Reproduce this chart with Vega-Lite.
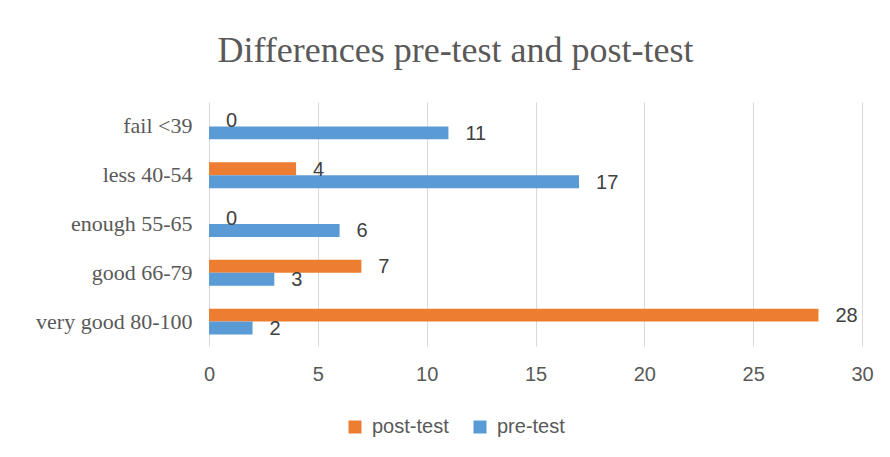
{
  "$schema": "https://vega.github.io/schema/vega-lite/v6.json",
  "width": 653,
  "height": 244,
  "autosize": {"type": "none"},
  "padding": {"left": 209, "top": 102, "right": 28, "bottom": 111},
  "background": "white",
  "title": {
    "text": "Differences pre-test and post-test",
    "font": "Liberation Serif",
    "fontSize": 36,
    "fontWeight": "normal",
    "color": "#595959",
    "anchor": "middle",
    "dx": -80,
    "offset": 32
  },
  "data": {
    "values": [
      {"grade": "fail <39", "test": "post-test", "count": 0},
      {"grade": "fail <39", "test": "pre-test", "count": 11},
      {"grade": "less 40-54", "test": "post-test", "count": 4},
      {"grade": "less 40-54", "test": "pre-test", "count": 17},
      {"grade": "enough 55-65", "test": "post-test", "count": 0},
      {"grade": "enough 55-65", "test": "pre-test", "count": 6},
      {"grade": "good 66-79", "test": "post-test", "count": 7},
      {"grade": "good 66-79", "test": "pre-test", "count": 3},
      {"grade": "very good 80-100", "test": "post-test", "count": 28},
      {"grade": "very good 80-100", "test": "pre-test", "count": 2}
    ]
  },
  "encoding": {
    "y": {
      "field": "grade",
      "type": "nominal",
      "sort": ["fail <39", "less 40-54", "enough 55-65", "good 66-79", "very good 80-100"],
      "scale": {"paddingInner": 0.47, "paddingOuter": 0.235},
      "axis": {
        "title": null,
        "domain": false,
        "ticks": false,
        "tickSize": 0,
        "grid": false,
        "labelPadding": 17,
        "labelFont": "Liberation Serif",
        "labelFontSize": 22,
        "labelColor": "#595959"
      }
    },
    "x": {
      "field": "count",
      "type": "quantitative",
      "scale": {"domain": [0, 30]},
      "axis": {
        "title": null,
        "values": [0, 5, 10, 15, 20, 25, 30],
        "domain": false,
        "ticks": false,
        "tickSize": 0,
        "grid": true,
        "gridColor": "#d9d9d9",
        "gridWidth": 1,
        "labelFlush": false,
        "labelPadding": 18,
        "labelFont": "Liberation Sans",
        "labelFontSize": 20,
        "labelColor": "#595959"
      }
    },
    "yOffset": {
      "field": "test",
      "type": "nominal",
      "sort": ["post-test", "pre-test"],
      "scale": {"paddingInner": 0, "paddingOuter": 0}
    }
  },
  "layer": [
    {
      "mark": {"type": "bar"},
      "encoding": {
        "color": {
          "field": "test",
          "type": "nominal",
          "sort": ["post-test", "pre-test"],
          "scale": {"domain": ["post-test", "pre-test"], "range": ["#ED7D31", "#5B9BD5"]},
          "legend": {
            "orient": "none",
            "direction": "horizontal",
            "legendX": 136,
            "legendY": 315,
            "title": null,
            "padding": 0,
            "symbolType": "square",
            "symbolSize": 169,
            "symbolStrokeWidth": 0,
            "labelFont": "Liberation Sans",
            "labelFontSize": 20,
            "labelColor": "#595959",
            "labelOffset": 7,
            "columnPadding": 21
          }
        }
      }
    },
    {
      "mark": {
        "type": "text",
        "align": "left",
        "baseline": "middle",
        "dx": 17,
        "dy": 1,
        "font": "Liberation Sans",
        "fontSize": 20,
        "color": "#404040"
      },
      "encoding": {
        "text": {"field": "count", "type": "quantitative"}
      }
    }
  ],
  "config": {"view": {"stroke": null}}
}
